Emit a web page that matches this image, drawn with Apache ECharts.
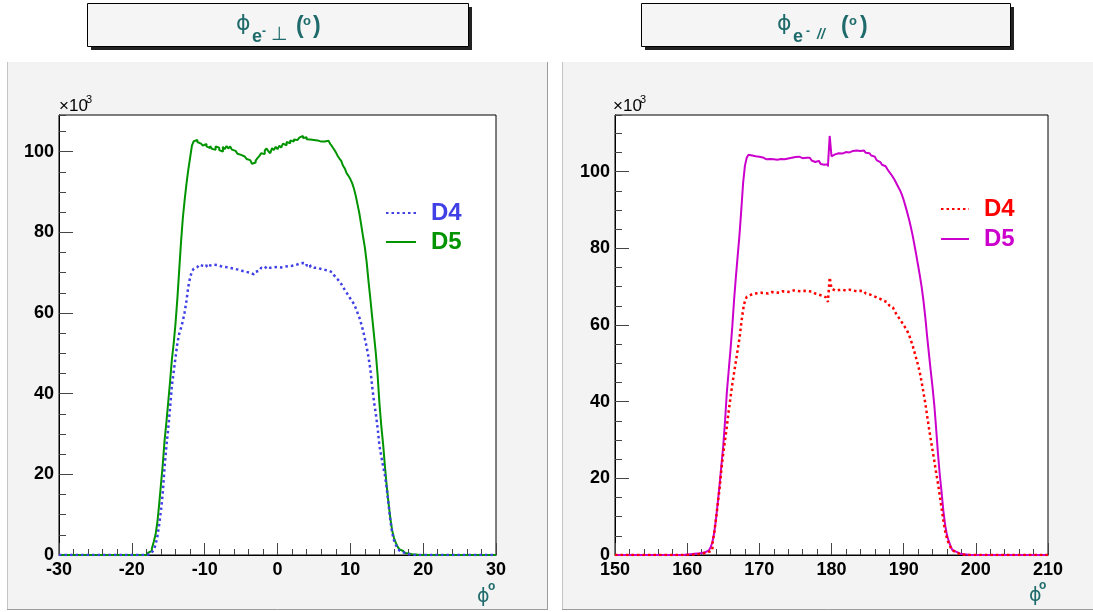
<!DOCTYPE html>
<html>
<head>
<meta charset="utf-8">
<script src="https://cdn.jsdelivr.net/npm/echarts@6/dist/echarts.min.js"></script>
<style>
  html, body { margin: 0; padding: 0; background: #fff; }
  #chart { width: 1093px; height: 612px; }
</style>
</head>
<body>
<div id="chart"></div>
<script>
// Electron azimuth distributions, 0.25 degree bins, counts in units of 10^3.
// Each row below holds 24 bins = 6 degrees.
const BIN_WIDTH = 0.25;

// Perpendicular setting: phi from -30 to 30 degrees
const perpRange = [-30, 30];
const perpD4 = [
  0,0,0,0,0,0,0,0,0,0,0,0,0,0,0,0,0,0,0,0,0,0,0,0,
  0,0,0,0,0,0,0,0,0,0,0,0,0,0,0,0,0,0,0,0,0,0,0,0,
  0.1,0.2,0.4,0.7,1.2,2.5,4.5,7.5,11.0,15.5,22.0,27.0,31.5,36.5,42.0,45.5,49.0,52.5,54.8,56.3,58.0,60.2,63.0,66.5,
  68.8,70.3,71.0,71.4,71.6,72.0,71.7,71.9,71.5,72.1,71.8,71.6,72.0,71.7,71.9,72.2,71.6,71.9,71.4,71.8,71.3,71.6,71.1,71.3,
  70.9,71.1,70.7,70.8,70.4,70.6,70.2,70.3,70.0,69.9,69.6,69.9,70.2,70.5,70.8,71.2,71.0,71.4,71.6,71.2,71.5,71.3,71.7,71.4,
  71.6,71.3,71.7,71.5,71.8,71.6,72.0,71.7,72.1,71.9,72.3,72.2,72.6,72.4,72.0,72.2,71.7,71.9,71.4,71.2,71.0,71.2,70.8,70.9,
  71.0,70.7,70.9,70.5,70.3,70.1,69.8,69.4,68.9,68.4,67.8,67.2,66.4,65.7,65.0,64.3,63.6,63.0,62.2,61.2,60.0,58.8,57.3,55.6,
  53.6,51.5,49.0,46.0,41.8,38.0,35.0,31.5,27.0,24.5,22.0,19.8,16.5,12.5,8.5,5.5,3.6,2.5,1.6,1.1,0.7,0.4,0.3,0.2,
  0.1,0.1,0,0,0,0,0,0,0,0,0,0,0,0,0,0,0,0,0,0,0,0,0,0,
  0,0,0,0,0,0,0,0,0,0,0,0,0,0,0,0,0,0,0,0,0,0,0,0
];
const perpD5 = [
  0,0,0,0,0,0,0,0,0,0,0,0,0,0,0,0,0,0,0,0,0,0,0,0,
  0,0,0,0,0,0,0,0,0,0,0,0,0,0,0,0,0,0,0,0,0,0,0,0,
  0.4,0.6,1.0,1.6,3.2,5.0,8.0,12.5,17.5,22.5,28.5,33.0,38.0,43.0,48.5,52.5,57.5,63.5,70.5,77.5,83.5,88.0,92.0,95.5,
  98.5,101.5,102.6,102.9,102.4,102.0,101.8,101.5,101.9,101.3,100.9,101.4,100.7,100.5,101.3,101.0,100.4,100.0,101.2,100.6,101.4,100.8,101.3,100.5,
  100.2,99.8,99.5,99.2,98.9,98.8,98.4,98.2,97.9,97.5,97.0,97.3,97.8,98.4,98.9,99.6,99.4,100.3,100.8,100.1,99.6,100.9,100.4,101.2,
  100.6,101.5,101.0,102.0,101.6,102.4,102.1,102.8,102.5,103.0,102.9,103.3,103.5,103.9,103.4,103.6,103.1,103.0,102.8,102.9,102.6,102.8,102.6,102.5,
  102.7,102.5,102.6,102.7,102.3,101.9,101.3,100.6,99.9,99.0,98.3,97.7,96.5,95.8,94.6,94.0,93.2,92.2,90.8,89.0,86.8,84.6,81.8,78.9,
  76.2,72.5,67.8,63.5,59.0,54.5,50.0,44.5,37.5,32.0,27.5,22.0,17.0,12.8,9.0,6.0,4.2,3.0,2.0,1.4,1.0,0.7,0.5,0.4,
  0.3,0.2,0.1,0.1,0,0,0,0,0,0,0,0,0,0,0,0,0,0,0,0,0,0,0,0,
  0,0,0,0,0,0,0,0,0,0,0,0,0,0,0,0,0,0,0,0,0,0,0,0
];

// Parallel setting: phi from 150 to 210 degrees
const parRange = [150, 210];
const parD4 = [
  0,0,0,0,0,0,0,0,0,0,0,0,0,0,0,0,0,0,0,0,0,0,0,0,
  0,0,0,0,0,0,0,0,0,0,0,0,0,0,0,0,0,0,0,0.1,0.1,0.2,0.2,0.3,
  0.4,0.5,0.6,0.8,0.9,1.3,3.0,5.8,9.5,13.5,17.5,22.5,26.5,30.0,33.5,37.5,41.0,44.5,47.5,50.5,53.5,56.5,60.5,64.0,
  66.3,67.3,67.8,68.0,68.2,67.9,68.3,68.1,68.4,68.0,68.3,68.5,68.2,68.4,68.6,68.3,68.5,68.7,68.4,68.6,68.8,68.5,68.7,68.9,
  68.6,68.8,69.0,68.7,68.9,69.1,68.8,69.0,68.9,69.1,68.8,68.6,68.7,68.4,68.2,68.3,67.9,68.0,67.6,67.5,67.2,66.8,66.0,72.4,
  69.5,69.0,68.8,69.1,68.9,69.2,68.8,69.0,68.9,69.2,68.8,69.0,69.1,68.8,69.0,68.9,68.7,68.8,68.5,68.2,68.0,67.8,67.6,67.4,
  67.2,67.0,66.8,66.6,66.3,66.1,65.9,65.6,65.1,64.6,64.2,63.6,62.8,62.1,61.4,60.7,60.0,59.2,58.4,57.4,56.0,54.6,52.9,51.2,
  49.5,47.5,45.0,42.3,39.6,36.3,33.2,30.2,27.3,24.5,21.5,18.7,15.5,12.3,9.0,6.2,4.3,3.0,2.0,1.2,0.8,0.5,0.3,0.2,
  0.1,0.1,0,0,0,0,0,0,0,0,0,0,0,0,0,0,0,0,0,0,0,0,0,0,
  0,0,0,0,0,0,0,0,0,0,0,0,0,0,0,0,0,0,0,0,0,0,0,0
];
const parD5 = [
  0,0,0,0,0,0,0,0,0,0,0,0,0,0,0,0,0,0,0,0,0,0,0,0,
  0,0,0,0,0,0,0,0,0,0,0,0,0,0,0.1,0.1,0.1,0.2,0.2,0.3,0.3,0.4,0.4,0.5,
  0.6,0.7,0.9,1.2,1.5,2.0,3.4,5.8,9.5,13.8,18.5,23.5,28.5,35.0,42.5,48.0,53.5,59.5,66.5,72.5,78.0,83.5,90.0,97.0,
  101.5,103.6,104.4,104.2,103.8,104.0,103.6,103.9,103.4,103.7,103.5,103.2,103.6,103.3,102.9,103.2,102.8,103.1,102.9,103.3,103.0,103.2,103.0,103.4,
  103.3,103.6,103.5,103.8,103.6,103.9,103.7,103.5,103.8,103.6,103.4,103.6,103.2,102.9,102.5,102.7,102.8,102.4,102.0,101.8,101.7,101.9,101.3,109.3,
  104.0,104.5,104.3,104.8,105.0,104.7,104.9,105.1,104.8,105.0,105.2,105.4,105.6,105.5,105.7,105.4,105.3,105.5,105.2,104.9,104.8,104.5,104.2,103.9,
  103.5,103.0,102.5,102.1,101.8,101.4,101.0,100.6,99.9,99.3,98.6,97.8,96.9,96.0,95.1,94.0,92.6,91.0,89.3,87.5,85.5,83.3,80.8,78.2,
  75.5,72.8,69.8,66.2,62.0,57.0,52.5,48.0,43.8,39.0,33.0,26.5,21.0,16.5,11.5,7.8,5.2,3.6,2.3,1.3,0.9,0.6,0.4,0.3,
  0.2,0.2,0.1,0.1,0,0,0,0,0,0,0,0,0,0,0,0,0,0,0,0,0,0,0,0,
  0,0,0,0,0,0,0,0,0,0,0,0,0,0,0,0,0,0,0,0,0,0,0,0
];

const seriesNames = ['D4', 'D5'];

const FONT = "'Liberation Sans', Arial, Helvetica, sans-serif";
const SYM = "'DejaVu Sans', sans-serif";
const TEAL = '#1f6b6b';
const BLUE = '#4040e6';
const GREEN = '#009400';
const RED = '#ff0000';
const MAGENTA = '#cc00cc';

// bin contents -> step outline points (left edge of each bin, plus closing right edge)
function histSteps(lo, values) {
  const pts = values.map((v, i) => [lo + i * BIN_WIDTH, v]);
  pts.push([lo + values.length * BIN_WIDTH, values[values.length - 1]]);
  return pts;
}

// histogram frame maximum: 5% headroom above the tallest bin
function frameMax(a, b) {
  return Math.max(...a, ...b) * 1.05;
}

const perpMax = frameMax(perpD4, perpD5);
const parMax = frameMax(parD4, parD5);

const tickStyle = { color: '#444', width: 1 };
const labelStyle = { fontSize: 18, fontWeight: 'bold', color: '#000', fontFamily: FONT };

function makeXAxis(gridIndex, range) {
  return {
    type: 'value', gridIndex, position: 'bottom', min: range[0], max: range[1], interval: 10,
    axisLine: { show: true, onZero: false, lineStyle: { color: '#000', width: 1 } },
    axisTick: { show: true, inside: true, length: 12, lineStyle: tickStyle },
    minorTick: { show: true, splitNumber: 5, length: 6, lineStyle: tickStyle },
    splitLine: { show: false }, minorSplitLine: { show: false },
    axisLabel: Object.assign({ margin: 6, showMinLabel: true, showMaxLabel: true }, labelStyle)
  };
}
// major (labelled, every 20) and minor (every 5) tick sets on the left edge
function makeYAxes(gridIndex, max) {
  return [
    {
      type: 'value', gridIndex, position: 'left', min: 0, max, interval: 20,
      axisLine: { show: true, onZero: false, lineStyle: { color: '#000', width: 1 } },
      axisTick: { show: true, inside: true, length: 14, lineStyle: tickStyle },
      splitLine: { show: false },
      axisLabel: Object.assign({ margin: 5, showMaxLabel: false }, labelStyle)
    },
    {
      type: 'value', gridIndex, position: 'left', offset: 0, min: 0, max, interval: 5,
      axisLine: { show: false, onZero: false },
      axisTick: { show: true, inside: true, length: 7, lineStyle: tickStyle },
      splitLine: { show: false },
      axisLabel: { show: false }
    }
  ];
}

function histSeries(name, xi, yi, lo, values, color, dotted) {
  return {
    type: 'line', name, xAxisIndex: xi, yAxisIndex: yi,
    data: histSteps(lo, values), step: 'end', symbol: 'none',
    itemStyle: { color },
    lineStyle: dotted
      ? { color, width: 2.5, type: [2.5, 3] }
      : { color, width: 2, type: 'solid' },
    emphasis: { disabled: true }, silent: true, animation: false
  };
}

function makeLegend(left, top, gap, width, names, colors) {
  return {
    orient: 'vertical', left, top, padding: 0, itemGap: gap,
    itemWidth: width, itemHeight: 14, selectedMode: false,
    itemStyle: { opacity: 0 },
    formatter: n => n.split(' ')[0],
    textStyle: { fontSize: 24, fontWeight: 'bold', fontFamily: FONT, lineHeight: 24, padding: [0, 0, 0, 10] },
    data: names.map((n, i) => ({ name: n, textStyle: { color: colors[i] } }))
  };
}

function txt(x, y, text, size, extra) {
  return {
    type: 'text', x, y, z: 100, silent: true,
    style: Object.assign({
      text, fontSize: size, fontFamily: FONT, fontWeight: 'bold',
      fill: TEAL, align: 'left', verticalAlign: 'middle'
    }, extra || {})
  };
}

const graphics = [
  // pads
  { type: 'rect', z: -10, silent: true, shape: { x: 7, y: 62, width: 541, height: 548 }, style: { fill: '#f3f3f3' } },
  { type: 'rect', z: -10, silent: true, shape: { x: 562, y: 62, width: 531, height: 548 }, style: { fill: '#f3f3f3' } },
  { type: 'line', z: -9, silent: true, shape: { x1: 7.5, y1: 62, x2: 7.5, y2: 610 }, style: { stroke: '#c4c4c4', lineWidth: 1 } },
  { type: 'line', z: -9, silent: true, shape: { x1: 7, y1: 609.5, x2: 548, y2: 609.5 }, style: { stroke: '#9c9c9c', lineWidth: 1 } },
  { type: 'line', z: -9, silent: true, shape: { x1: 547.5, y1: 62, x2: 547.5, y2: 610 }, style: { stroke: '#9c9c9c', lineWidth: 1 } },
  { type: 'line', z: -9, silent: true, shape: { x1: 562.5, y1: 62, x2: 562.5, y2: 610 }, style: { stroke: '#c4c4c4', lineWidth: 1 } },
  { type: 'line', z: -9, silent: true, shape: { x1: 562, y1: 609.5, x2: 1093, y2: 609.5 }, style: { stroke: '#9c9c9c', lineWidth: 1 } },

  // title boxes with drop shadow
  { type: 'rect', z: 90, silent: true, shape: { x: 91, y: 7, width: 381, height: 43 }, style: { fill: '#222' } },
  { type: 'rect', z: 91, silent: true, shape: { x: 87.5, y: 3.5, width: 381, height: 43 }, style: { fill: '#f5f5f5', stroke: '#000', lineWidth: 1 } },
  { type: 'rect', z: 90, silent: true, shape: { x: 645, y: 7, width: 369, height: 43 }, style: { fill: '#222' } },
  { type: 'rect', z: 91, silent: true, shape: { x: 641.5, y: 3.5, width: 369, height: 43 }, style: { fill: '#f5f5f5', stroke: '#000', lineWidth: 1 } },

  // title: phi_e- perpendicular (deg)
  txt(236, 24, '\u03D5', 22, { fontFamily: SYM, fontWeight: 'normal' }),
  txt(252, 37, 'e', 18),
  txt(262, 32, '-', 12),
  txt(271, 35, '\u22A5', 19, { fontFamily: SYM, fontWeight: 'normal' }),
  txt(296, 27, '(', 23),
  txt(303, 21, 'o', 13),
  txt(313, 27, ')', 23),

  // title: phi_e- parallel (deg)
  txt(777, 24, '\u03D5', 22, { fontFamily: SYM, fontWeight: 'normal' }),
  txt(793, 37, 'e', 18),
  txt(806, 32, '-', 12),
  txt(817, 35, '//', 14, { fontStyle: 'italic' }),
  txt(841, 27, '(', 23),
  txt(849, 21, 'o', 13),
  txt(860, 27, ')', 23),

  // axis exponent labels
  txt(59, 106, '\u00D710', 17, { fill: '#000', fontWeight: 'normal' }),
  txt(86, 100, '3', 11, { fill: '#000', fontWeight: 'normal' }),
  txt(613, 106, '\u00D710', 17, { fill: '#000', fontWeight: 'normal' }),
  txt(640, 100, '3', 11, { fill: '#000', fontWeight: 'normal' }),

  // x axis titles
  txt(477, 597, '\u03D5', 19, { fontFamily: SYM, fontWeight: 'normal' }),
  txt(488, 587, 'o', 12),
  txt(1029, 596, '\u03D5', 19, { fontFamily: SYM, fontWeight: 'normal' }),
  txt(1039, 586, 'o', 12)
];

const perpNames = seriesNames.map(n => n + ' \u22A5');
const parNames = seriesNames.map(n => n + ' //');

const option = {
  backgroundColor: '#fff',
  animation: false,
  grid: [
    { left: 59, top: 115, width: 437, height: 440, show: true, backgroundColor: '#fff', borderColor: '#000', borderWidth: 1, containLabel: false },
    { left: 615, top: 115, width: 433, height: 440, show: true, backgroundColor: '#fff', borderColor: '#000', borderWidth: 1, containLabel: false }
  ],
  xAxis: [makeXAxis(0, perpRange), makeXAxis(1, parRange)],
  yAxis: [...makeYAxes(0, perpMax), ...makeYAxes(1, parMax)],
  legend: [
    makeLegend(385, 201, 5, 30, perpNames, [BLUE, GREEN]),
    makeLegend(940, 197, 6, 28, parNames, [RED, MAGENTA])
  ],
  series: [
    histSeries(perpNames[1], 0, 0, perpRange[0], perpD5, GREEN, false),
    histSeries(perpNames[0], 0, 0, perpRange[0], perpD4, BLUE, true),
    histSeries(parNames[1], 1, 2, parRange[0], parD5, MAGENTA, false),
    histSeries(parNames[0], 1, 2, parRange[0], parD4, RED, true)
  ],
  graphic: graphics
};

const chart = echarts.init(document.getElementById('chart'), null, { renderer: 'canvas' });
chart.setOption(option);
</script>
</body>
</html>
